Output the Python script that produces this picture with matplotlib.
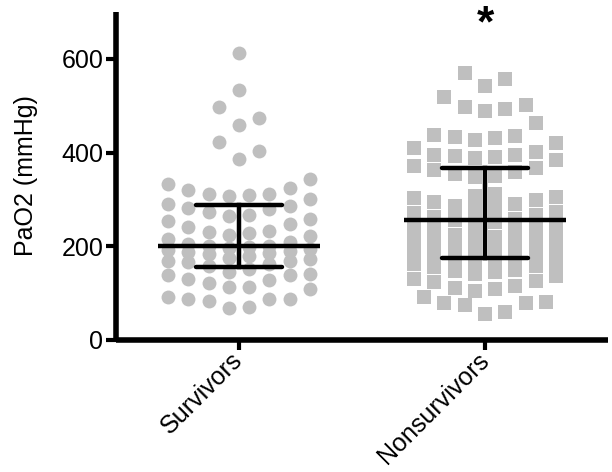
import numpy as np
import matplotlib
matplotlib.use("Agg")
import matplotlib.pyplot as plt

plt.rcParams['font.family'] = ['Liberation Sans', 'DejaVu Sans']

groups = ["Survivors", "Nonsurvivors"]

survivors = [69, 70, 83, 87, 88, 88, 91, 108,
             114, 114, 121, 128, 130, 138, 138, 140,
             146, 151, 158, 162, 166, 169, 169, 173,
             176, 180, 183, 186, 188, 190, 192, 195,
             197, 199, 200, 201, 205, 210, 215, 222,
             225, 228, 230, 233, 241, 248, 253, 258,
             265, 267, 273, 280, 282, 286, 290, 300,
             307, 310, 312, 312, 319, 324, 332, 344,
             386, 404, 423, 459, 474, 498, 534, 613]

nonsurvivors = [56, 59, 74, 79, 79, 80, 92,
                105, 108, 110, 116, 124, 126, 130,
                136, 140, 145, 148, 150, 155, 158, 162, 165, 170, 172,
                176, 178, 182, 185, 188, 190, 193, 196, 199, 202, 205, 208,
                211, 214, 217, 220, 224, 228, 232, 236, 240, 244, 248, 252, 255,
                258, 262, 266, 270, 274, 278, 282, 286, 290, 294, 298, 302, 306,
                308, 312, 348, 350, 354, 358, 362, 366, 372,
                385, 388, 390, 392, 394, 395, 402, 410,
                420, 427, 430, 434, 436, 438,
                463, 488, 493, 498, 502, 518, 541, 556, 570]

# median and interquartile range shown as bars
medians = [201, 257]
q1 = [156, 175]
q3 = [287, 367]

markers = ["o", "s"]
marker_sizes = [10, 9.5]
gray = "#bfbfbf"


def row_layout(values, span=40, max_row=8, step=0.0825):
    # prism-like rows: lowest point in the middle, then outwards
    vals = np.sort(np.asarray(values, dtype=float))
    offs = np.zeros(len(vals))
    i = 0
    while i < len(vals):
        j = i
        while j < len(vals) and j - i < max_row and vals[j] - vals[i] < span:
            j += 1
        n = j - i
        if n % 2:
            slots = [0]
            for k in range(1, n // 2 + 1):
                slots += [k, -k]
        else:
            slots = []
            for k in range(n // 2):
                slots += [-(k + 0.5), k + 0.5]
        offs[i:j] = np.array(slots[:n]) * step
        i = j
    return vals, offs


fig = plt.figure(figsize=(6.12, 4.72), dpi=100)
ax = fig.add_axes([0.1895, 0.2797, 0.804, 0.695])

for gi, data in enumerate([survivors, nonsurvivors]):
    vals, offs = row_layout(data)
    ax.plot(gi + offs, vals, linestyle="none", marker=markers[gi],
            markersize=marker_sizes[gi], color=gray,
            markeredgewidth=0, zorder=2)
    ax.plot([gi - 0.33, gi + 0.33], [medians[gi]] * 2, color="black",
            lw=3.2, solid_capstyle="butt", zorder=3)
    for q in (q1[gi], q3[gi]):
        ax.plot([gi - 0.173, gi + 0.173], [q, q], color="black",
                lw=3.2, solid_capstyle="round", zorder=3)
    ax.plot([gi, gi], [q1[gi], q3[gi]], color="black", lw=3.2, zorder=3)

ax.text(1, 672, "*", ha="center", va="center", fontsize=32,
        fontweight="bold", clip_on=False)

ax.set_xlim(-0.5, 1.5)
ax.set_ylim(0, 700)
ax.set_yticks([0, 200, 400, 600])
ax.set_xticks([0, 1])
ax.set_xticklabels(groups, rotation=45, ha="right", va="center",
                   rotation_mode="anchor")
ax.set_ylabel("PaO2 (mmHg)", fontsize=18, labelpad=17)

for side in ["top", "right"]:
    ax.spines[side].set_visible(False)
for side in ["left", "bottom"]:
    ax.spines[side].set_linewidth(4)
    ax.spines[side].set_capstyle("butt")
ax.tick_params(axis="both", direction="out", length=7, width=3,
               labelsize=18, pad=2)
ax.tick_params(axis="x", pad=5)

fig.savefig("out.png", dpi=100)
